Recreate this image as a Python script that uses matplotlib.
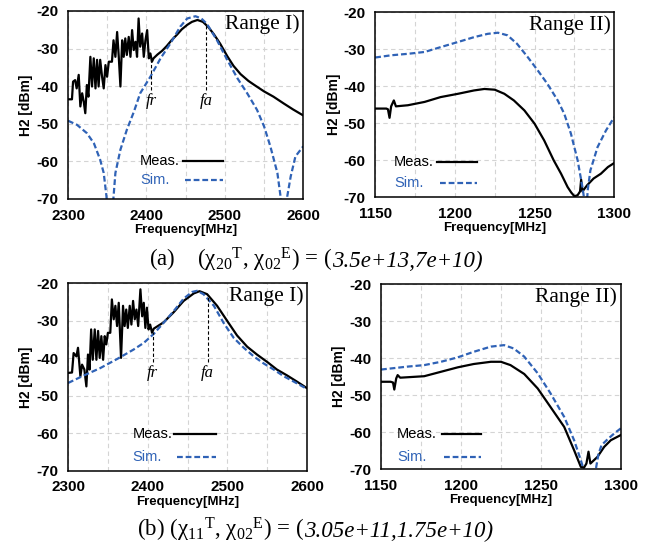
import numpy as np
import matplotlib
matplotlib.use("Agg")
import matplotlib.pyplot as plt
from matplotlib.offsetbox import TextArea, HPacker, AnchoredOffsetbox

plt.rcParams['font.family'] = ['Liberation Sans', 'DejaVu Sans']
plt.rcParams['mathtext.fontset'] = 'custom'
plt.rcParams['mathtext.rm'] = 'Liberation Serif'
plt.rcParams['mathtext.it'] = 'Liberation Serif:italic'
plt.rcParams['mathtext.bf'] = 'Liberation Serif:bold'
plt.rcParams['axes.unicode_minus'] = False

BLUE = '#2f62b6'

# ---- (a) Range I ----
meas_a1_f = [2300, 2305, 2306.4, 2309, 2311, 2313.6, 2315.7, 2318, 2320, 2322, 2324, 2326,
             2328.5, 2330.6, 2332.8, 2335, 2337, 2339, 2341, 2343.4, 2345.5, 2347.7, 2349.8,
             2352, 2356, 2358, 2360.4, 2362.6, 2364.7, 2366.8, 2369, 2371, 2373, 2375, 2377.4,
             2379.6, 2381.7, 2383.8, 2386, 2388, 2390, 2392, 2394.5, 2396.6, 2398.7, 2400.9,
             2403, 2405, 2407, 2409, 2414, 2420, 2426, 2432, 2439, 2445, 2452, 2458, 2465,
             2472, 2479, 2486, 2494, 2503, 2511, 2520, 2530, 2537, 2550, 2562, 2575, 2587, 2600]
meas_a1_v = [-43.5, -43.5, -38.8, -38.4, -40.6, -37, -45.4, -41.9, -44.1, -47.2, -39.7, -42.8,
             -32.2, -40.1, -32.6, -40.6, -33, -40.1, -33, -37.5, -40.6, -34.4, -37.5,
             -33.5, -33.5, -27.8, -32.2, -25.6, -32.2, -40.1, -27.8, -32.2, -27.3, -31.7, -26.9,
             -32.2, -25.1, -30.4, -28.2, -32.2, -22, -29.5, -26, -32.2, -27.8, -25.1,
             -32.6, -31.3, -33.5, -32.6, -31.6, -30.6, -29.3, -27.8, -26.3, -24.9, -23.7, -22.9, -22.4,
             -22.9, -24.3, -26.2, -28.7, -32.0, -34.6, -36.8, -38.6, -39.6, -41.4, -42.8, -44.6, -46.2, -47.8]
sim_a1_f = [2300, 2311.5, 2324, 2333, 2341, 2345.5, 2349, 2351, 2353.5, 2356, 2358, 2360.4,
            2366.8, 2375, 2384, 2392, 2405, 2418, 2431, 2443, 2452, 2462.5, 2470, 2477, 2490,
            2503, 2516, 2528.5, 2541, 2550, 2558, 2567, 2571, 2573, 2575.5, 2578, 2579.6,
            2584, 2590, 2600]
sim_a1_v = [-49.2, -50.3, -52.5, -55.2, -59.6, -63.1, -69.3, -76, -80, -76, -69.5, -63.1,
            -56.9, -51.6, -46.8, -41.9, -37.5, -32.6, -28.5, -24.2, -22, -21.4, -22, -23.4, -27.8,
            -33, -37.9, -41.9, -46.3, -50.7, -56, -63.1, -69.3, -76, -80, -76, -69.3,
            -64, -58.7, -56]

# ---- (a) Range II ----
meas_a2_f = [1150, 1157, 1158, 1159, 1160, 1161.7, 1163, 1170.5, 1181, 1191, 1202, 1212, 1218.5,
             1225, 1231, 1237, 1243.6, 1250, 1256, 1262, 1266.6, 1270.7, 1273, 1275, 1277,
             1278.5, 1279.2, 1280, 1283, 1287, 1291.6, 1296, 1300]
meas_a2_v = [-46.1, -46.1, -46.3, -48.6, -45.5, -43.9, -45.5, -45.2, -44.3, -43, -42.1, -41.2, -40.8,
             -41, -42.1, -43.9, -46.6, -50.2, -54.7, -60.1, -63.7, -67.3, -68.8, -69.8, -69.5,
             -68.5, -65.3, -68.5, -66.8, -65, -63.7, -61.9, -60.8]
sim_a2_f = [1150, 1160, 1170.5, 1181, 1191, 1202, 1212, 1220.6, 1227, 1233, 1239, 1245.7, 1252,
            1258, 1264.5, 1268.6, 1272.8, 1277, 1280, 1281.6, 1282.5, 1283.3, 1285, 1289.5,
            1294.8, 1300]
sim_a2_v = [-32.3, -31.7, -31.3, -30.8, -29.5, -28.1, -26.8, -25.9, -25.6, -26.3, -28.6, -32.2, -35.8,
            -39.4, -43.9, -47.5, -52.9, -60.1, -67.3, -72, -74, -68.2, -62.8, -56.5,
            -52, -48.4]

# ---- (b) Range I ----
meas_b1_f = [2300, 2305, 2307, 2310.5, 2312.5, 2315.5, 2317.6, 2320.5, 2323, 2325, 2327, 2329,
             2331, 2333.5, 2335.6, 2337.7, 2339.7, 2341.8, 2344, 2346, 2348, 2350, 2353, 2355,
             2357.3, 2359.4, 2361.5, 2363.6, 2366.5, 2369, 2371, 2373, 2375, 2377.4, 2379.5,
             2381.6, 2383.7, 2385.8, 2388, 2390.8, 2393, 2395, 2397, 2399, 2401, 2403, 2405.4,
             2407.5, 2420, 2432.6, 2445, 2457.7, 2465, 2474.5, 2487, 2499.6, 2512, 2524.7,
             2537, 2550, 2562, 2575, 2587, 2600]
meas_b1_v = [-43.9, -43.8, -38.6, -39.5, -37.2, -44.8, -41.7, -43, -47.5, -39, -43, -32.3,
             -40.4, -32.3, -40.4, -32.7, -39.9, -34.1, -40.4, -34.1, -36.3, -33.2, -33.2, -24.3,
             -29.6, -26, -31.4, -25.2, -39.9, -26, -31.4, -27, -31.9, -26, -31,
             -24.7, -29.6, -27, -31.4, -21.6, -28.8, -25.2, -31.9, -26.5, -32.3, -31, -33.2,
             -32.1, -30.4, -27.7, -24.7, -22.7, -22.1, -22.9, -26, -30, -33.9, -36.9,
             -39, -41, -43, -44.6, -46.2, -48]
sim_b1_f = [2300, 2319.7, 2340.6, 2361.5, 2382, 2395, 2407.5, 2420, 2432.6, 2445, 2455.6, 2461.9,
            2470, 2483, 2495, 2508, 2520.5, 2533, 2545.6, 2558, 2570.7, 2583, 2600]
sim_b1_v = [-46.6, -44.6, -42.6, -40.2, -37.7, -35.9, -33.5, -30.5, -27.4, -24.1, -22.3, -22,
            -22.9, -26, -30.5, -34.6, -37.2, -39.5, -41.4, -43, -44.8, -46.2, -48.2]

# ---- (b) Range II ----
meas_b2_f = [1150, 1156, 1157.5, 1158.3, 1159.5, 1160.4, 1162, 1177, 1187.5, 1198, 1208, 1218.75,
             1225, 1231, 1239.6, 1248, 1256, 1264.6, 1270.8, 1275, 1277, 1278.5, 1279.8, 1281,
             1285.4, 1289.6, 1293.75, 1300]
meas_b2_v = [-46.4, -46.4, -46.6, -48.5, -45.5, -44.6, -45.3, -44.9, -43.7, -42.5, -41.6, -41,
             -41, -41.9, -44.3, -48.2, -53.2, -58.6, -64.9, -69.4, -69.6, -68.5, -65.3, -68.5,
             -66.7, -64, -62.2, -60.8]
sim_b2_f = [1150, 1166.7, 1177, 1187.5, 1198, 1208, 1218.75, 1227, 1233, 1239.6, 1248, 1256,
            1264.6, 1270.8, 1275, 1276.7, 1279, 1281.5, 1284.4, 1286, 1288, 1291.6, 1295.8, 1300]
sim_b2_v = [-43.1, -42.3, -41.9, -41, -39.8, -38.3, -36.9, -36.5, -37.4, -39.6, -44.1, -49.5,
            -55.9, -62.2, -67.6, -70, -75, -75, -70, -66, -63.5, -62, -60.4, -59]

# resonance / anti-resonance markers (MHz)
fr_a, fa_a = 2406, 2476
fr_b, fa_b = 2406, 2475
marker_bottom = -41
label_y = -44

# captions: upright part + italic part
captions = [(r'(a)    (χ${}_{20}{}^{\mathrm{T}}$, χ${}_{02}{}^{\mathrm{E}}$) = (', '3.5e+13,7e+10)'),
            (r'(b) (χ${}_{11}{}^{\mathrm{T}}$, χ${}_{02}{}^{\mathrm{E}}$) = (', '3.05e+11,1.75e+10)')]


def panel(rect, mf, mv, sf, sv, xlim, xstep, title, leg):
    ax = fig.add_axes(rect)
    ax.plot(mf, mv, color='black', lw=1.6)
    ax.plot(sf, sv, color=BLUE, lw=1.6, ls=(0, (2.6, 1.3)))
    ax.set_xlim(xlim)
    ax.set_ylim(-70, -20)
    ax.set_xticks(np.arange(xlim[0], xlim[1] + 1, xstep))
    ax.set_xticks(np.arange(xlim[0], xlim[1] + 1, xstep / 2), minor=True)
    ax.set_yticks(np.arange(-70, -19, 10))
    ax.grid(True, which='both', color='#d4d4d4', ls=(0, (4, 3)), lw=0.8)
    ax.tick_params(which='both', length=0, labelsize=11, pad=7)
    for lab in ax.get_xticklabels() + ax.get_yticklabels():
        lab.set_fontweight('bold')
    ax.set_xlabel('Frequency[MHz]', fontsize=9.5, labelpad=1, fontweight='bold')
    ax.set_ylabel('H2 [dBm]', fontsize=10, labelpad=2, fontweight='bold')
    for s in ax.spines.values():
        s.set_linewidth(1.1)
    ax.text(0.985, 0.93, title, transform=ax.transAxes, ha='right', va='center',
            fontsize=15.5, family='Liberation Serif')
    # legend: text left, line on the right
    tx, ty1, ty2, lx0, lx1 = leg
    ax.text(tx, ty1, 'Meas.', transform=ax.transAxes, ha='left', va='center',
            fontsize=10.5, color='black')
    ax.text(tx, ty2, 'Sim.', transform=ax.transAxes, ha='left', va='center',
            fontsize=10.5, color=BLUE)
    ax.plot([lx0, lx1], [ty1, ty1], transform=ax.transAxes, color='black', lw=1.6)
    ax.plot([lx0 + 0.01, lx1], [ty2, ty2], transform=ax.transAxes, color=BLUE, lw=1.6,
            ls=(0, (2.6, 1.3)))
    return ax


def markers(ax, mf, mv, fr, fa):
    for f, name in [(fr, 'fr'), (fa, 'fa')]:
        top = np.interp(f, mf, mv)
        ax.vlines(f, marker_bottom, top, color='black', lw=0.8, ls=(0, (3, 2)))
        ax.text(f, label_y, name, ha='center', va='center', fontsize=12,
                family='Liberation Serif', style='italic')


def caption(xy, parts):
    props = dict(family='Liberation Serif', fontsize=16.5)
    box = HPacker(children=[TextArea(parts[0], textprops=props),
                            TextArea(parts[1], textprops=dict(props, style='italic'))],
                  sep=0, pad=0, align='baseline')
    anch = AnchoredOffsetbox(loc='center', child=box, bbox_to_anchor=xy,
                             bbox_transform=fig.transFigure, frameon=False,
                             pad=0, borderpad=0)
    fig.add_artist(anch)


fig = plt.figure(figsize=(6.48, 5.48), dpi=100)

ax = panel([0.105, 0.637, 0.363, 0.343], meas_a1_f, meas_a1_v, sim_a1_f, sim_a1_v,
           (2300, 2600), 100, 'Range I)', (0.306, 0.2, 0.102, 0.489, 0.66))
markers(ax, meas_a1_f, meas_a1_v, fr_a, fa_a)
panel([0.579, 0.6405, 0.369, 0.3376], meas_a2_f, meas_a2_v, sim_a2_f, sim_a2_v,
      (1150, 1300), 50, 'Range II)', (0.079, 0.189, 0.076, 0.259, 0.427))
ax = panel([0.105, 0.141, 0.369, 0.342], meas_b1_f, meas_b1_v, sim_b1_f, sim_b1_v,
           (2300, 2600), 100, 'Range I)', (0.269, 0.196, 0.075, 0.445, 0.617))
markers(ax, meas_b1_f, meas_b1_v, fr_b, fa_b)
panel([0.588, 0.144, 0.370, 0.3376], meas_b2_f, meas_b2_v, sim_b2_f, sim_b2_v,
      (1150, 1300), 50, 'Range II)', (0.067, 0.187, 0.066, 0.254, 0.417))

caption((0.488, 1 - 260 / 548), captions[0])
caption((0.486, 1 - 530 / 548), captions[1])

fig.savefig('out.png', dpi=100)
